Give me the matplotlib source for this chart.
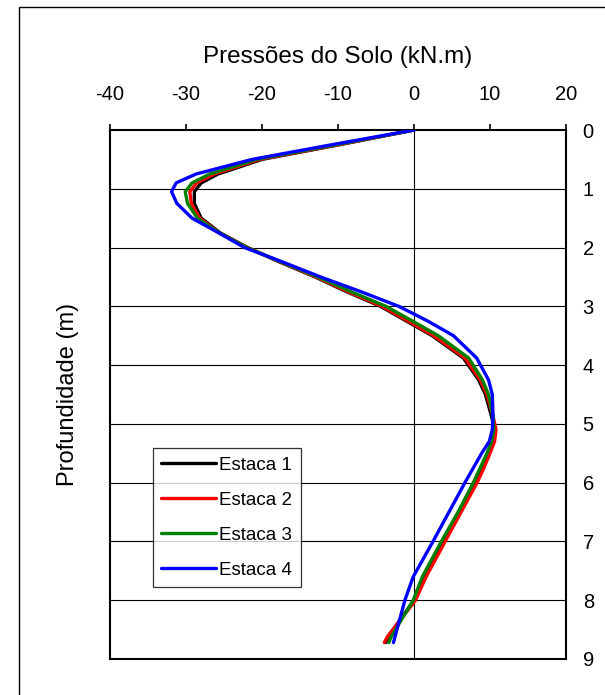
import matplotlib
matplotlib.use("Agg")
import matplotlib.pyplot as plt
from matplotlib.patches import Rectangle

plt.rcParams['font.family'] = ['Liberation Sans', 'DejaVu Sans']

# Depth (m) and soil pressure (kN.m) for each pile
depth = [0.0, 0.25, 0.5, 0.75, 0.9, 1.05, 1.25, 1.5, 1.75, 2.0, 2.25, 2.5, 2.75,
         3.0, 3.25, 3.5, 3.88, 4.25, 4.5, 4.87, 5.1, 5.3, 5.5, 5.75, 6.0, 6.5,
         7.0, 7.6, 8.0, 8.62, 8.72]

estaca_1 = [0.0, -9.8, -20.0, -25.8, -28.0, -28.9, -28.9, -28.0, -25.5, -21.9,
            -17.6, -13.0, -8.9, -4.4, -1.0, 2.4, 6.5, 8.5, 9.4, 10.2, 10.6, 10.4,
            9.8, 9.0, 8.1, 6.0, 3.9, 1.4, 0.0, -3.4, -3.7]
estaca_2 = [0.0, -9.9, -20.3, -26.3, -28.6, -29.5, -29.3, -28.2, -25.6, -21.9,
            -17.5, -12.9, -8.7, -4.2, -0.8, 2.6, 6.7, 8.7, 9.6, 10.4, 10.8, 10.6,
            10.0, 9.2, 8.3, 6.2, 4.1, 1.6, 0.2, -3.5, -3.9]
estaca_3 = [0.0, -10.2, -20.7, -26.9, -29.2, -30.1, -29.8, -28.5, -25.6, -22.0,
            -17.4, -12.7, -8.3, -3.7, -0.2, 3.2, 7.2, 9.0, 9.8, 10.4, 10.5, 10.2,
            9.6, 8.7, 7.8, 5.8, 3.6, 1.1, -0.1, -3.0, -3.3]
estaca_4 = [0.0, -10.8, -21.3, -28.7, -31.3, -31.9, -31.2, -29.2, -25.7, -22.3,
            -17.2, -12.3, -7.0, -2.0, 1.8, 5.2, 8.25, 9.8, 10.3, 10.4, 10.3, 9.9,
            8.9, 7.8, 6.7, 4.6, 2.5, -0.1, -1.2, -2.5, -2.7]

series = [("Estaca 1", estaca_1, "black"),
          ("Estaca 2", estaca_2, "red"),
          ("Estaca 3", estaca_3, "green"),
          ("Estaca 4", estaca_4, "blue")]

x_ticks = [-40, -30, -20, -10, 0, 10, 20]
y_ticks = [0, 1, 2, 3, 4, 5, 6, 7, 8, 9]

fig = plt.figure(figsize=(6.05, 6.95), dpi=100)
fig.patch.set_facecolor("white")

# Outer chart-area frame
fig.add_artist(Rectangle((19 / 605, -0.1), 1.2, 1.1 - 7 / 695,
                         transform=fig.transFigure, fill=False,
                         edgecolor="black", linewidth=1.0))

ax = fig.add_axes([110 / 605, 1 - 659 / 695, 456 / 605, 529 / 695])

for yv in y_ticks[1:-1]:
    ax.axhline(yv, color="black", linewidth=0.8, zorder=1)
ax.axvline(0, color="black", linewidth=0.8, zorder=1)

for name, vals, col in series:
    ax.plot(vals, depth, color=col, linewidth=2.4, label=name, zorder=3,
            solid_joinstyle="round", solid_capstyle="round")

ax.set_xlim(-40, 20)
ax.set_ylim(9, 0)
ax.set_xticks(x_ticks)
ax.set_yticks(y_ticks)
ax.set_xticklabels([str(v) for v in x_ticks])
ax.set_yticklabels([str(v) for v in y_ticks])

ax.xaxis.tick_top()
ax.yaxis.tick_right()
ax.tick_params(axis="x", direction="out", length=4.5, width=1.2, pad=14,
               labelsize=14.5)
ax.tick_params(axis="y", length=0, pad=12, labelsize=14.5)

for sp in ax.spines.values():
    sp.set_linewidth(1.5)
    sp.set_color("black")

fig.text(338 / 605, 1 - 57 / 695, "Pressões do Solo (kN.m)", ha="center",
         va="center", fontsize=17.5)
fig.text(68 / 605, 1 - 394 / 695, "Profundidade (m)", ha="center",
         va="center", rotation=90, fontsize=17)

leg = ax.legend(loc="lower left", bbox_to_anchor=(0.094, 0.136),
                fontsize=13.5, frameon=True, fancybox=False,
                handlelength=2.9, handletextpad=0.2, labelspacing=0.95,
                borderpad=0.45, borderaxespad=0)
leg.get_frame().set_edgecolor("black")
leg.get_frame().set_linewidth(0.9)
for line in leg.get_lines():
    line.set_linewidth(2.4)

fig.savefig("out.png", dpi=100, facecolor="white")
